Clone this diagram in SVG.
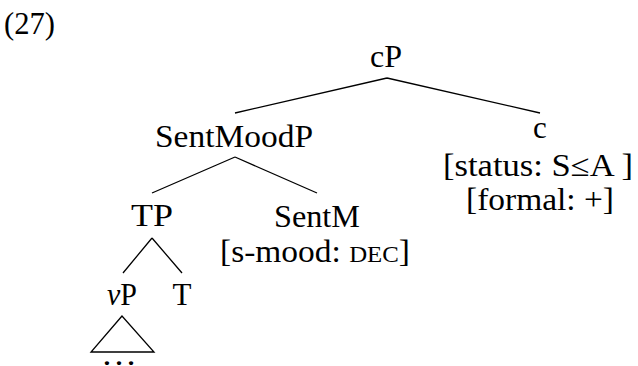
<svg xmlns="http://www.w3.org/2000/svg" width="638" height="366" viewBox="0 0 638 366">
<style>
text{font-family:"Liberation Serif","Times New Roman",serif;font-size:31px;fill:#000}
.m{text-anchor:middle}
.e{stroke:#000;stroke-width:1.3;fill:none}
</style>
<rect width="638" height="366" fill="#fff"/>
<text x="4" y="34" textLength="51" lengthAdjust="spacingAndGlyphs">(27)</text>
<g id="edges">
<path class="e" d="M387 78L235 113M387 78L540 113"/>
<path class="e" d="M235 157L152 193M235 157L317 193"/>
<path class="e" d="M152 238L123 273M152 238L182 273"/>
<polygon class="e" points="122,316 91,352 154,352"/>
</g>
<g id="cP"><text class="m" x="386" y="67" textLength="32" lengthAdjust="spacingAndGlyphs">cP</text></g>
<g id="SentMoodP"><text class="m" x="234" y="147" textLength="158" lengthAdjust="spacingAndGlyphs">SentMoodP</text></g>
<g id="c">
<text class="m" x="540" y="138">c</text>
<text class="m" x="538" y="176" textLength="190" lengthAdjust="spacingAndGlyphs">[status: S≤A ]</text>
<text class="m" x="540" y="210" textLength="148" lengthAdjust="spacingAndGlyphs">[formal: +]</text>
</g>
<g id="TP"><text class="m" x="152" y="226" textLength="42" lengthAdjust="spacingAndGlyphs">TP</text></g>
<g id="SentM">
<text class="m" x="317" y="227" textLength="86" lengthAdjust="spacingAndGlyphs">SentM</text>
<text class="m" x="315" y="262" textLength="190" lengthAdjust="spacingAndGlyphs">[s-mood: <tspan font-size="23">DEC</tspan>]</text>
</g>
<g id="vP"><text class="m" x="122" y="305" textLength="30" lengthAdjust="spacingAndGlyphs"><tspan font-style="italic">v</tspan>P</text></g>
<g id="T"><text class="m" x="182" y="305">T</text></g>
<g id="dots"><text x="101" y="365" textLength="36" lengthAdjust="spacingAndGlyphs">…</text></g>
</svg>
